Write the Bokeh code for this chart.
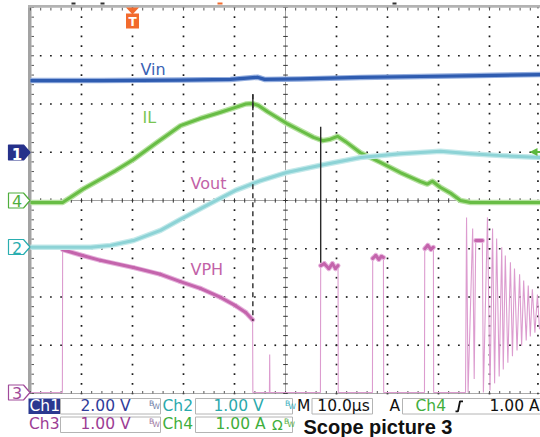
import numpy as np
from bokeh.plotting import figure
from bokeh.models import Range1d
from bokeh.core.properties import value
from bokeh.embed import file_html
from bokeh.resources import INLINE

# ---------------- scope settings ----------------
TIME_PER_DIV = 10.0        # µs / div
TRIG_POS_DIV = -3.0        # trigger position, divisions from screen centre
CH1_SCALE, CH1_POS = 2.0, 1.0    # Vin   2.00 V/div, ground marker +1 div
CH2_SCALE, CH2_POS = 1.0, -1.0   # Vout  1.00 V/div
CH3_SCALE, CH3_POS = 1.0, -4.0   # VPH   1.00 V/div
CH4_SCALE, CH4_POS = 1.0, 0.0    # IL    1.00 A/div

# ---------------- waveforms ----------------
vin_t = [-20.0, -6.3, 9.4, 19.2, 24.5, 25.9, 32.9, 44.7, 56.5, 68.2, 80.0]
vin_v = [2.97, 2.97, 2.99, 3.02, 3.11, 3.02, 3.04, 3.10, 3.14, 3.18, 3.22]

il_t = [-20.0, -13.7, -12.2, -9.8, -6.3, -3.3, 0.2, 4.5, 9.4, 13.3, 17.3, 20.2,
        22.2, 23.5, 24.7, 26.5, 30.2, 32.9, 35.5, 37.3, 38.8, 40.2, 41.8, 44.7,
        48.6, 52.5, 56.5, 57.8, 58.8, 60.4, 62.4, 64.3, 66.3, 80.0]
il_a = [-0.04, -0.04, 0.06, 0.23, 0.44, 0.62, 0.85, 1.18, 1.55, 1.70, 1.83, 1.93,
        2.00, 2.01, 1.97, 1.84, 1.60, 1.45, 1.31, 1.24, 1.27, 1.33, 1.22, 0.99,
        0.79, 0.58, 0.39, 0.34, 0.40, 0.27, 0.15, 0.00, -0.04, -0.04]

vout_t = [-20.0, -8.2, -4.3, 0.2, 5.5, 9.4, 15.3, 20.2, 25.1, 30.2, 36.9, 44.7,
          52.5, 60.4, 66.3, 72.2, 80.0]
vout_v = [0.03, 0.03, 0.07, 0.17, 0.38, 0.61, 0.94, 1.21, 1.41, 1.58, 1.73, 1.89,
          1.97, 2.02, 1.97, 1.93, 1.89]

vph_t = [-20.0, -13.75, -13.7, -9.8, -6.3, 0.2, 5.5, 9.4, 13.3, 17.3, 20.2, 22.2,
         23.55, 23.6, 26.85, 26.9, 26.95, 36.85, 36.9, 37.6, 38.5, 39.2, 39.8, 40.3,
         40.35, 47.05, 47.1, 47.7, 48.3, 48.8, 49.2, 49.25, 57.25, 57.3, 57.9, 58.5,
         59.0, 59.05, 65.3, 65.5, 65.8, 66.7, 67.0, 67.3, 68.6, 68.8, 69.6, 70.1,
         70.6, 71.0, 71.4, 71.9, 72.4, 72.7, 73.1, 73.6, 74.1, 74.5, 74.9, 75.4,
         75.9, 76.3, 76.7, 77.2, 77.6, 78.0, 78.4, 78.9, 79.4, 79.8]
vph_v = [0.02, 0.02, 2.98, 2.86, 2.76, 2.61, 2.47, 2.32, 2.18, 1.99, 1.82, 1.68,
         1.53, 0.02, 0.02, 0.81, 0.02, 0.02, 2.65, 2.69, 2.59, 2.69, 2.59, 2.65,
         0.02, 0.02, 2.80, 2.86, 2.78, 2.84, 2.82, 0.02, 0.02, 3.00, 3.07, 2.99,
         3.03, 0.02, 0.02, 3.65, 0.02, 3.42, 0.30, 3.17, 3.17, 0.02, 3.65, 0.06,
         3.42, 0.21, 3.21, 0.35, 3.03, 0.50, 2.86, 0.64, 2.72, 0.77, 2.59, 0.89,
         2.47, 0.99, 2.34, 1.10, 2.24, 1.18, 2.16, 1.26, 2.05, 1.33]

# cursors (time µs, extent in divisions)
cursor_t = [23.6, 36.9]
cursor_top = [2.20, 1.53]
cursor_bottom = [-2.49, -1.29]
cursor_dash = ["5 4", "solid"]

trace_labels = ["Vin", "IL", "Vout", "VPH"]

# ---------------- layout (reference pixel frame) ----------------
W, H = 540, 437
PX_L, PX_T = 0, 0
PX_R, PX_B = PX_L + W, PX_T + H
GX_C, GX_D = 285.0, 51.0      # grid centre x, px per div
GY_C, GY_D = 200.0, 48.25     # grid centre y, px per div

dx0, dx1 = (PX_L - GX_C) / GX_D, (PX_R - GX_C) / GX_D
dy0, dy1 = (GY_C - PX_B) / GY_D, (GY_C - PX_T) / GY_D


def t_of(d):
    return (d - TRIG_POS_DIV) * TIME_PER_DIV


def ch_range(scale, pos):
    return Range1d((dy0 - pos) * scale, (dy1 - pos) * scale)


p = figure(width=W, height=H, x_range=Range1d(t_of(dx0), t_of(dx1)),
           y_range=Range1d(dy0, dy1), output_backend="svg", toolbar_location=None,
           x_axis_location=None, y_axis_location=None, min_border=0,
           outline_line_color=None, background_fill_color="white",
           border_fill_color="white")
for g in p.grid:
    g.visible = False
p.extra_x_ranges = {"dx": Range1d(dx0, dx1), "px": Range1d(PX_L, PX_R)}
p.extra_y_ranges = {"ch1": ch_range(CH1_SCALE, CH1_POS),
                    "ch2": ch_range(CH2_SCALE, CH2_POS),
                    "ch3": ch_range(CH3_SCALE, CH3_POS),
                    "ch4": ch_range(CH4_SCALE, CH4_POS),
                    "px": Range1d(PX_B, PX_T)}
PX = dict(x_range_name="px", y_range_name="px")

# ---------------- graticule ----------------
gx, gy = [], []
for d in list(range(-4, 5)) + [4.95]:
    if d == 0:
        continue
    for k in range(-20, 21):
        gx.append(d); gy.append(k / 5)
for d in range(-3, 4):
    if d == 0:
        continue
    for k in range(-25, 26):
        gx.append(k / 5); gy.append(d)
p.scatter(gx, gy, x_range_name="dx", marker="square", size=1.7,
          fill_color="#1a1a1a", line_color=None)

# centre axes
p.line([-5, 5], [0, 0], x_range_name="dx", line_color="#444", line_width=1, line_dash="1 1")
p.line([0, 0], [-4, 4], x_range_name="dx", line_color="#444", line_width=1, line_dash="1 1")
kx = np.arange(-25, 26) / 5
ky = np.arange(-20, 21) / 5
p.segment(x0=kx, y0=-0.045, x1=kx, y1=0.045, x_range_name="dx", line_color="#333", line_width=1)
p.segment(x0=-0.045, y0=ky, x1=0.045, y1=ky, x_range_name="dx", line_color="#333", line_width=1)

# frame: left bar, top bar, bottom edge
p.quad(left=27.5, right=31, top=4.5, bottom=393.5, fill_color="#a3a3a3", line_color=None, **PX)
ty = GY_C + GY_D * ky
p.segment(x0=31, y0=ty, x1=33.5, y1=ty, line_color="#555", line_width=1, **PX)
p.quad(left=27.5, right=PX_R, top=4.5, bottom=7.3, fill_color="#b3b3b3", line_color=None, **PX)
tx = GX_C + GX_D * kx
p.segment(x0=tx, y0=7.3, x1=tx, y1=10, line_color="#555", line_width=1, **PX)
p.line([31, PX_R], [393, 393], line_color="#555", line_width=1, line_dash="1 1", **PX)
p.segment(x0=tx, y0=393, x1=tx, y1=390.5, line_color="#555", line_width=1, **PX)
# small status marks above the top bar
p.quad(left=[71, 100, 392], right=[75, 104, 396], top=2, bottom=4,
       fill_color="#333", line_color=None, **PX)
p.quad(left=217, right=222, top=2, bottom=4, fill_color="#f26b2d", line_color=None, **PX)

# ---------------- traces ----------------
vt, vv = np.array(vph_t), np.array(vph_v)
p.line(vph_t, vph_v, y_range_name="ch3", line_color="#dc9ccf", line_width=1.1)
thick = (vv[:-1] > 1.2) & (vv[1:] > 1.2) & (np.abs(np.diff(vv)) < 0.5)
p.segment(x0=vt[:-1][thick], y0=vv[:-1][thick], x1=vt[1:][thick], y1=vv[1:][thick],
          y_range_name="ch3", line_color="#e6b2dc", line_width=5, line_cap="round")
p.segment(x0=vt[:-1][thick], y0=vv[:-1][thick], x1=vt[1:][thick], y1=vv[1:][thick],
          y_range_name="ch3", line_color="#c464ac", line_width=3, line_cap="round")

p.line(il_t, il_a, y_range_name="ch4", line_color="#b6e2a0", line_width=5.5, line_join="round")
p.line(il_t, il_a, y_range_name="ch4", line_color="#68bd45", line_width=3, line_join="round")

p.line(vout_t, vout_v, y_range_name="ch2", line_color="#c3e9ea", line_width=5.5, line_join="round")
p.line(vout_t, vout_v, y_range_name="ch2", line_color="#8dd3d6", line_width=3, line_join="round")

p.line(vin_t, vin_v, y_range_name="ch1", line_color="#94aedf", line_width=5.5, line_join="round")
p.line(vin_t, vin_v, y_range_name="ch1", line_color="#2f5cb0", line_width=3.2, line_join="round")

# cursors
for t, top, bot, dash in zip(cursor_t, cursor_top, cursor_bottom, cursor_dash):
    p.line([t, t], [top, bot], line_color="#2a2a2a", line_width=1.4, line_dash=dash)
p.line([cursor_t[0]] * 2, [cursor_top[0], cursor_top[0] - 0.33], line_color="#2a2a2a", line_width=1.4)


def txt(x, y, s, color, size=15.5, font="DejaVu Sans", align="left", style="normal"):
    # y is the wanted alphabetic baseline (pixels); compensate renderer offset
    p.text(x=[x], y=[y - 0.32 * size], text=[s], text_font=value(font),
           text_font_size=f"{size}px", text_color=color, text_align=align,
           text_baseline="alphabetic", text_font_style=style, **PX)


# trace labels
txt(140, 74, trace_labels[0], "#3a62b4", 16)
txt(142, 122, trace_labels[1], "#79c552", 16)
txt(190, 188, trace_labels[2], "#c262a7", 16)
txt(190, 274, trace_labels[3], "#c262a7", 16)

# ---------------- channel markers ----------------
def marker(yc, fill, line, label, tcolor, bold=False):
    xs = [8, 23, 29.5, 23, 8]
    ys = [yc - 7.5, yc - 7.5, yc, yc + 7.5, yc + 7.5]
    p.patch(xs, ys, fill_color=fill, line_color=line, line_width=1.2, **PX)
    txt(16.5, yc + 6, label, tcolor, 15 if bold else 16, align="center",
        style="bold" if bold else "normal")


marker(152, "#26318a", "#26318a", "1", "white", bold=True)
marker(200, "white", "#4fae3c", "4", "#4fae3c")
marker(246.5, "white", "#2aaeb0", "2", "#2aaeb0")
marker(392, "white", "#a04a9a", "3", "#a04a9a")

# trigger position marker
p.patch([125.5, 138.5, 132], [7, 7, 14], fill_color="#f26b2d", line_color=None, **PX)
p.quad(left=125.5, right=138.5, top=13, bottom=28, fill_color="#f26b2d", line_color=None, **PX)
txt(132, 25, "T", "white", 12, align="center", style="bold")
# trigger level marker
p.patch([529, 537, 537], [151.5, 147.5, 155.5], fill_color="#5cb83c", line_color=None, **PX)
p.line([536, 540], [151.5, 151.5], line_color="#5cb83c", line_width=2, **PX)

# ---------------- status bar ----------------
R1T, R1B, R1Y = 398, 413.5, 410.8
R2T, R2B, R2Y = 416.5, 432, 428.5
BOX = dict(fill_color="white", line_color="#b4b4b4", line_width=1)


def bw(x, y, color):
    txt(x, y - 5.5, "B", color, 7.5)
    txt(x + 3.5, y - 2.5, "W", color, 7.5)


# row 1
p.quad(left=28, right=60, top=R1T, bottom=R1B, fill_color="#2b3990", line_color=None, **PX)
txt(29, R1Y, "Ch1", "white")
p.quad(left=60, right=160, top=R1T, bottom=R1B, **BOX, **PX)
txt(105, R1Y, "2.00 V", "#2e3c9a", align="center")
bw(148.5, R1Y, "#7282aa")
txt(162, R1Y, "Ch2", "#2aa9ac")
p.quad(left=195, right=292, top=R1T, bottom=R1B, **BOX, **PX)
txt(238, R1Y, "1.00 V", "#2aa9ac", align="center")
bw(284.5, R1Y, "#3fb2c0")
txt(296.5, R1Y, "M", "#111")
p.quad(left=311.5, right=372, top=R1T, bottom=R1B, **BOX, **PX)
txt(343, R1Y, "10.0µs", "#111", align="center")
txt(389, R1Y, "A", "#111")
p.quad(left=402, right=545, top=R1T, bottom=R1B, **BOX, **PX)
txt(415, R1Y, "Ch4", "#3fae3c")
p.line([455, 457.5, 459.5, 462.5], [R1Y, R1Y, R1Y - 10, R1Y - 10], line_color="#111", line_width=1.8, **PX)
txt(489, R1Y, "1.00 A", "#111")

# row 2
txt(28.5, R2Y, "Ch3", "#9c3d94")
p.quad(left=60, right=160, top=R2T, bottom=R2B, **BOX, **PX)
txt(105, R2Y, "1.00 V", "#9c3d94", align="center")
bw(148.5, R2Y, "#a07aa4")
txt(162, R2Y, "Ch4", "#3fae3c")
p.quad(left=195, right=292, top=R2T, bottom=R2B, **BOX, **PX)
txt(240, R2Y, "1.00 A", "#3fae3c", align="center")
txt(271.5, R2Y, "Ω", "#3fae3c", 14)
bw(283.5, R2Y, "#5ab04a")
txt(303, 433, "Scope picture 3", "#111", 20, font="Liberation Sans", style="bold")

open("out.html", "w").write(file_html(p, INLINE))
